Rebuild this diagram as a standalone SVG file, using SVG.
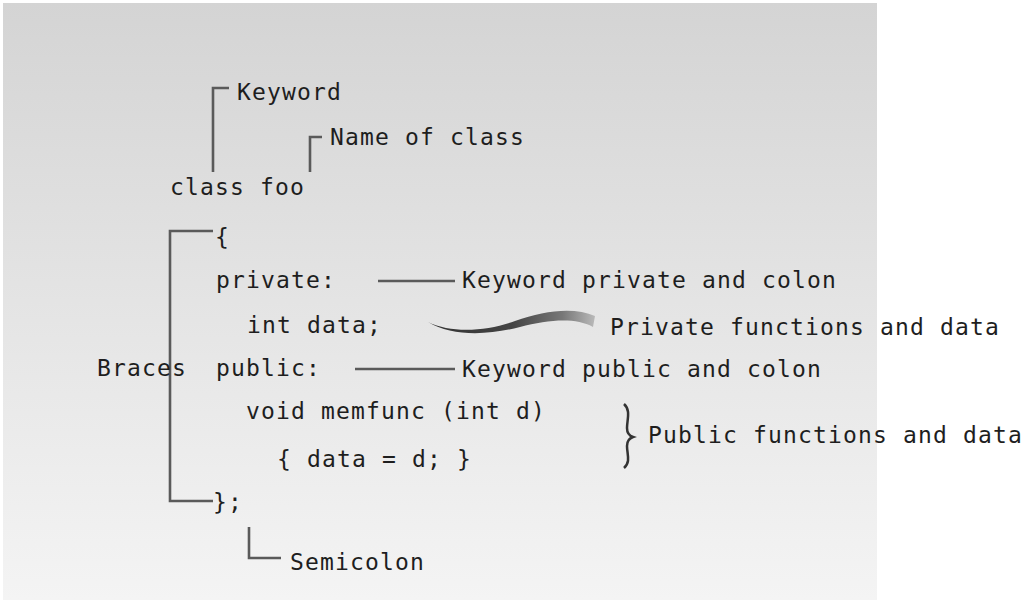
<svg xmlns="http://www.w3.org/2000/svg" width="1028" height="600" viewBox="0 0 1028 600">
<defs>
<linearGradient id="bg" x1="0" y1="0" x2="0" y2="1">
<stop offset="0" stop-color="#d4d4d4"/>
<stop offset="1" stop-color="#f4f4f4"/>
</linearGradient>
<linearGradient id="sw" x1="428" y1="0" x2="596" y2="0" gradientUnits="userSpaceOnUse">
<stop offset="0" stop-color="#333"/>
<stop offset="0.5" stop-color="#444"/>
<stop offset="0.8" stop-color="#777"/>
<stop offset="1" stop-color="#bbb"/>
</linearGradient>
<style>
text{font-family:"DejaVu Sans Mono","Liberation Mono",monospace;font-size:23px;letter-spacing:1.15px;fill:#1e1e1e}
.ln{fill:none;stroke:#5a5a5a;stroke-width:2.6}
.br{fill:none;stroke:#333;stroke-width:2.5}
</style>
</defs>
<rect width="1028" height="600" fill="#fff"/>
<rect x="3" y="3" width="874" height="597" fill="url(#bg)"/>
<g id="connectors">
<path class="ln" d="M213,172 V88 H229"/>
<path class="ln" d="M310,172 V137 H322"/>
<path class="ln" d="M213,231 H170 V501 H213"/>
<path class="ln" d="M378,281 H455"/>
<path class="ln" d="M355,369 H455"/>
<path class="ln" d="M249,527 V558 H281"/>
<path d="M428,322 C452,334 488,331 515,321 C545,310 575,307 595,316 L593,327 C575,317 548,320 520,327 C490,335 452,337 428,322 Z" fill="url(#sw)"/>
<path class="br" d="M624,404 C631,410 627,420 627,428 C627,434 630,436 633,437 C630,438 627,440 627,446 C627,454 631,462 624,468"/>
</g>
<g id="code">
<text x="170" y="195">class foo</text>
<text x="215" y="245">{</text>
<text x="216" y="288">private:</text>
<text x="247" y="333">int data;</text>
<text x="216" y="376">public:</text>
<text x="246" y="419">void memfunc (int d)</text>
<text x="277" y="467">{ data = d; }</text>
<text x="213" y="510">};</text>
</g>
<g id="label-keyword"><text x="237" y="100">Keyword</text></g>
<g id="label-name"><text x="330" y="145">Name of class</text></g>
<g id="label-braces"><text x="97" y="376">Braces</text></g>
<g id="label-private-kw"><text x="462" y="288">Keyword private and colon</text></g>
<g id="label-private-fd"><text x="610" y="335">Private functions and data</text></g>
<g id="label-public-kw"><text x="462" y="377">Keyword public and colon</text></g>
<g id="label-public-fd"><text x="648" y="443">Public functions and data</text></g>
<g id="label-semicolon"><text x="290" y="570">Semicolon</text></g>
</svg>
